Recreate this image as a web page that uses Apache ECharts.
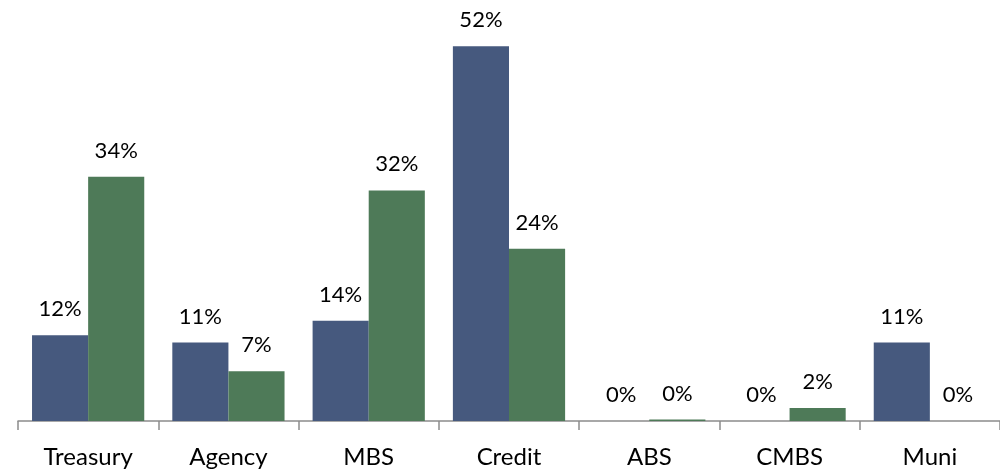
<!DOCTYPE html>
<html>
<head>
<meta charset="utf-8">
<script src="https://cdn.jsdelivr.net/npm/echarts@6/dist/echarts.min.js"></script>
<style>
html,body{margin:0;padding:0;background:#fff;}
#c{width:1000px;height:469px;}
</style>
</head>
<body>
<div id="c"></div>
<script>
var categories = ['Treasury', 'Agency', 'MBS', 'Credit', 'ABS', 'CMBS', 'Muni'];
var seriesA = [11.9, 10.9, 13.9, 52, 0, 0, 10.9];
var seriesB = [33.9, 6.9, 32, 23.9, 0.2, 1.8, 0];

var chart = echarts.init(document.getElementById('c'));
var labelCfg = {
  show: true,
  position: 'top',
  distance: 15,
  fontFamily: 'Lato',
  fontSize: 22,
  color: '#000',
  formatter: function (p) { return Math.round(p.value) + '%'; }
};
chart.setOption({
  animation: false,
  grid: { left: 18, width: 984, top: 3, height: 418.5 },
  xAxis: {
    type: 'category',
    data: categories,
    axisLine: { lineStyle: { color: '#8c8c8c', width: 1.5 } },
    axisTick: { show: true, length: 9, lineStyle: { color: '#8c8c8c', width: 1.5 } },
    axisLabel: { fontFamily: 'Lato', fontSize: 24, color: '#000', margin: 24 }
  },
  yAxis: {
    type: 'value', min: 0, max: 58,
    show: false, splitLine: { show: false }
  },
  series: [
    { type: 'bar', data: seriesA, barGap: '0%', barCategoryGap: '20%',
      itemStyle: { color: '#46597e' }, label: labelCfg },
    { type: 'bar', data: seriesB, barGap: '0%', barCategoryGap: '20%',
      itemStyle: { color: '#4e7a58' }, label: labelCfg }
  ]
});
</script>
</body>
</html>
